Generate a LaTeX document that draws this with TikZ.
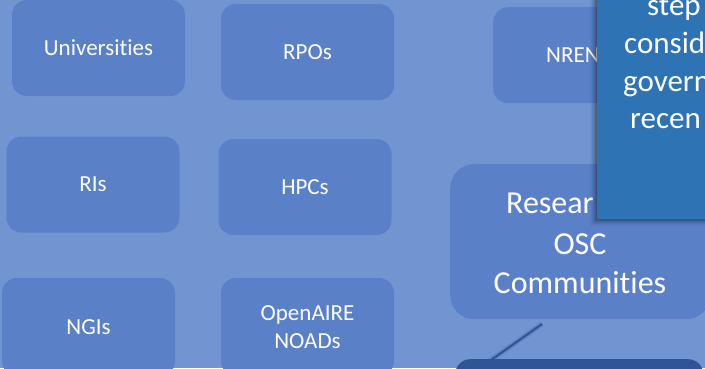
\documentclass[tikz,border=0pt]{standalone}
\usepackage{fontspec}
\setmainfont{Carlito}[Ligatures={NoCommon,NoDiscretionary,NoContextual}]
\usetikzlibrary{shadows.blur}
\definecolor{bgc}{HTML}{7195D1}
\definecolor{boxc}{HTML}{5A81C8}
\definecolor{overc}{HTML}{2E74B5}
\definecolor{darkc}{HTML}{2F5597}
\definecolor{linec}{HTML}{2F5597}
\tikzset{
  smallbox/.style={rectangle, rounded corners=15pt, fill=boxc, draw=none, text=white,
    font=\fontsize{23}{28}\selectfont, minimum width=173pt, minimum height=96pt,
    inner sep=0pt, align=center},
  bigtxt/.style={text=white, font=\fontsize{32}{39}\selectfont, inner sep=0pt},
  overtxt/.style={text=white, font=\fontsize{31}{38}\selectfont, inner sep=0pt, anchor=base west},
  conn/.style={draw=linec, line width=2pt}
}
\begin{document}
\begin{tikzpicture}[x=1pt,y=-1pt]
\useasboundingbox (0,0) rectangle (705,368);
\fill[bgc] (0,0) rectangle (705,368);
% left grid of boxes
\node[smallbox] (univ) at (98.5,48) {Universities};
\node[smallbox] (rpo) at (307.5,52) {RPOs};
\node[smallbox] (ri) at (93,184.5) {RIs};
\node[smallbox] (hpc) at (305,187) {HPCs};
\node[smallbox, minimum height=98pt] (ngi) at (88.5,327) {NGIs};
\node[smallbox, minimum height=98pt] (oa) at (307.5,327) {OpenAIRE\\NOADs};
% NREN box
\node[smallbox, anchor=north west] (nren) at (493,7) {};
\node[text=white, font=\fontsize{23}{28}\selectfont, inner sep=0pt, anchor=base west] (nrent) at (546,62) {NREN};
% Research box
\node[rectangle, rounded corners=24pt, fill=boxc, minimum width=260pt, minimum height=155pt, anchor=north west] (res) at (450,164) {};
\node[bigtxt, anchor=base west] (res1) at (506,213) {Resear};
\node[bigtxt, anchor=base] (res2) at (580,254) {OSC};
\node[bigtxt, anchor=base] (res3) at (580,293) {Communities};
% connector
\coordinate (ca) at (542,324);
\coordinate (cb) at (477,370);
\draw[conn, draw opacity=0.25, line width=5pt] (ca) -- (cb);
\draw[conn] (ca) -- (cb);
% dark box
\node[rectangle, rounded corners=15pt, fill=darkc, minimum width=248pt, minimum height=60pt, anchor=north west] (dark) at (455,359) {};
% overlay box
\node[rectangle, fill=overc, minimum width=140pt, minimum height=240pt, anchor=south west,
  blur shadow={shadow xshift=-3pt, shadow yshift=-3pt, shadow blur radius=4pt, shadow opacity=45}] (over) at (597,219) {};
\begin{scope}
\clip (597,-5) rectangle (705,219);
\node[overtxt] (o1) at (647,15) {step};
\node[overtxt] (o2) at (624,53) {consid};
\node[overtxt] (o3) at (623,91) {govern};
\node[overtxt] (o4) at (630,128) {recen};
\end{scope}
\end{tikzpicture}
\end{document}
